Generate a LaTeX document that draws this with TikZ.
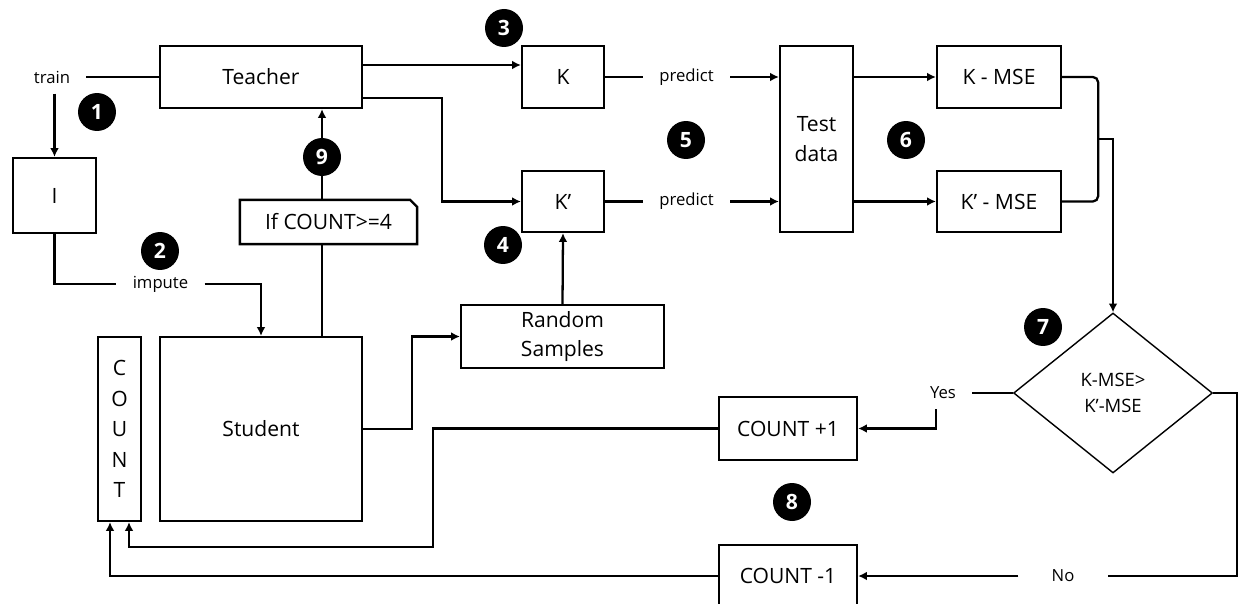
\documentclass[tikz,border=0pt]{standalone}
\usepackage{fontspec}
\setmainfont{Open Sans}
\usetikzlibrary{arrows.meta, shapes.geometric, calc}

\tikzset{
  box/.style={draw, line width=1.3pt, fill=white, inner sep=0pt, align=center,
    font=\fontsize{12}{17}\selectfont},
  lbl/.style={inner xsep=0.32cm, inner ysep=0.2cm, font=\fontsize{9.5}{11}\selectfont},
  badge/.style={circle, fill=black, text=white, minimum size=0.76cm, inner sep=0pt,
    font=\fontsize{12}{12}\selectfont\bfseries},
  wire/.style={line width=1.3pt},
  arr/.style={wire, -{Latex[length=5pt,width=5pt]}},
}

\begin{document}
\begin{tikzpicture}[x=0.02cm, y=-0.02cm]
  \useasboundingbox (0,0) rectangle (1239,604);
  \clip (0,0) rectangle (1239,604);

  % Left column: teacher, imputer, student, counter
  \node[box, minimum width=4.04cm, minimum height=1.24cm] (teacher) at (261,77) {Teacher};
  \node[box, minimum width=1.66cm, minimum height=1.5cm] (imp) at (54.5,195.5) {I};
  \node[box, minimum width=4.04cm, minimum height=3.68cm] (student) at (261,429) {Student};
  \node[box, minimum width=0.86cm, minimum height=3.68cm,
    font=\fontsize{12}{17.4}\selectfont] (count) at (119.5,429) {C\\O\\U\\N\\T};

  % Condition box with snipped corner
  \node[box, draw=none, minimum width=3.5cm, minimum height=0.84cm] (cond) at (328.5,222) {If COUNT>=4};
  \draw[wire] (cond.south west) -- (cond.north west) -- ([xshift=-0.14cm]cond.north east)
    -- ([yshift=-0.14cm]cond.north east) -- (cond.south east) -- cycle;

  % Models and test data
  \node[box, minimum width=1.64cm, minimum height=1.24cm] (K) at (563,77) {K};
  \node[box, minimum width=1.64cm, minimum height=1.22cm] (Kp) at (563,201.5) {K’};
  \node[box, minimum width=4.06cm, minimum height=1.26cm] (rs) at (562.5,336.5) {Random\\Samples};
  \node[box, minimum width=1.46cm, minimum height=3.72cm] (test) at (816.5,139) {Test\\data};
  \node[box, minimum width=2.48cm, minimum height=1.24cm] (KM) at (999,77) {K - MSE};
  \node[box, minimum width=2.48cm, minimum height=1.22cm] (KpM) at (999,201.5) {K’ - MSE};

  % Decision and counter updates
  \node[draw, diamond, line width=0.8pt, minimum width=3.98cm, minimum height=3.2cm, inner sep=0pt,
    align=center, font=\fontsize{10.5}{14.5}\selectfont] (dia) at (1113,393) {K-MSE>\\K’-MSE};
  \node[box, minimum width=2.76cm, minimum height=1.26cm] (cp1) at (788,428.5) {COUNT +1};
  \node[box, minimum width=2.76cm, minimum height=1.24cm] (cm1) at (788,576) {COUNT -1};

  % Labels on the lines
  \node[lbl] (train) at (52,77) {train};
  \node[lbl] (impute) at (160.5,284) {impute};
  \node[lbl] (p1) at (686.5,77) {predict};
  \node[lbl] (p2) at (686.5,201.5) {predict};
  \node[lbl] (yes) at (943,393) {Yes};
  \node[lbl, inner xsep=0.66cm] (no) at (1063,576) {No};

  % train -> teacher, imputer -> student
  \draw[wire] (train.east) -- (teacher.west);
  \draw[arr] (train.south -| imp.north) -- (imp.north);
  \draw[wire] (imp.south) |- (impute.west);
  \draw[arr] (impute.east) -| (student.north);

  % student -> condition -> teacher
  \draw[wire] ([xshift=-0.13cm]cond.south) -- ([xshift=-0.13cm]cond.south |- student.north);
  \draw[arr] ([xshift=-0.13cm]cond.north) -- ([xshift=-0.13cm]cond.north |- teacher.south);

  % teacher -> K and K'
  \draw[arr] ([yshift=0.24cm]teacher.east) -- ([yshift=0.24cm]K.west);
  \draw[arr] ([yshift=-0.42cm]teacher.east) -| ([xshift=-1.58cm]Kp.west) -- (Kp.west);

  % student -> random samples -> K'
  \draw[arr] (student.east) -| ([xshift=-0.96cm]rs.west) -- (rs.west);
  \draw[arr] (rs.north) -- (Kp.south);

  % predict on test data
  \draw[wire] (K.east) -- (p1.west);
  \draw[arr] (p1.east) -- (p1.east -| test.west);
  \draw[wire] (Kp.east) -- (p2.west);
  \draw[arr] (p2.east) -- (p2.east -| test.west);
  \draw[arr] (test.east |- KM.west) -- (KM.west);
  \draw[arr] (test.east |- KpM.west) -- (KpM.west);

  % compare errors
  \draw[wire, rounded corners=3pt] (KM.east) -| ([xshift=0.72cm]KpM.east) -- (KpM.east);
  \coordinate (join) at ($(KM.east)!0.5!(KpM.east)+(36,0)$);
  \draw[arr] (join) -| (dia.north);

  % yes / no branches
  \draw[wire] (yes.east) -- (dia.west);
  \draw[arr] ([xshift=-0.14cm]yes.south) |- (cp1.east);
  \draw[wire] (dia.east) -- ++(24,0) |- (no.east);
  \draw[arr] (no.west) -- (cm1.east);

  % back to the counter
  \coordinate (bend) at (433,547);
  \draw[arr] (cp1.west) -| (bend) -| ([xshift=0.19cm]count.south);
  \draw[arr] (cm1.west) -| ([xshift=-0.19cm]count.south);

  % Step numbers
  \node[badge] (n1) at (97,112) {1};
  \node[badge] (n2) at (160,251) {2};
  \node[badge] (n3) at (504,28) {3};
  \node[badge] (n4) at (503,245) {4};
  \node[badge] (n5) at (686,140) {5};
  \node[badge] (n6) at (906,140) {6};
  \node[badge] (n7) at (1043,327) {7};
  \node[badge] (n8) at (792,502) {8};
  \node[badge] (n9) at (322,157) {9};
\end{tikzpicture}
\end{document}
